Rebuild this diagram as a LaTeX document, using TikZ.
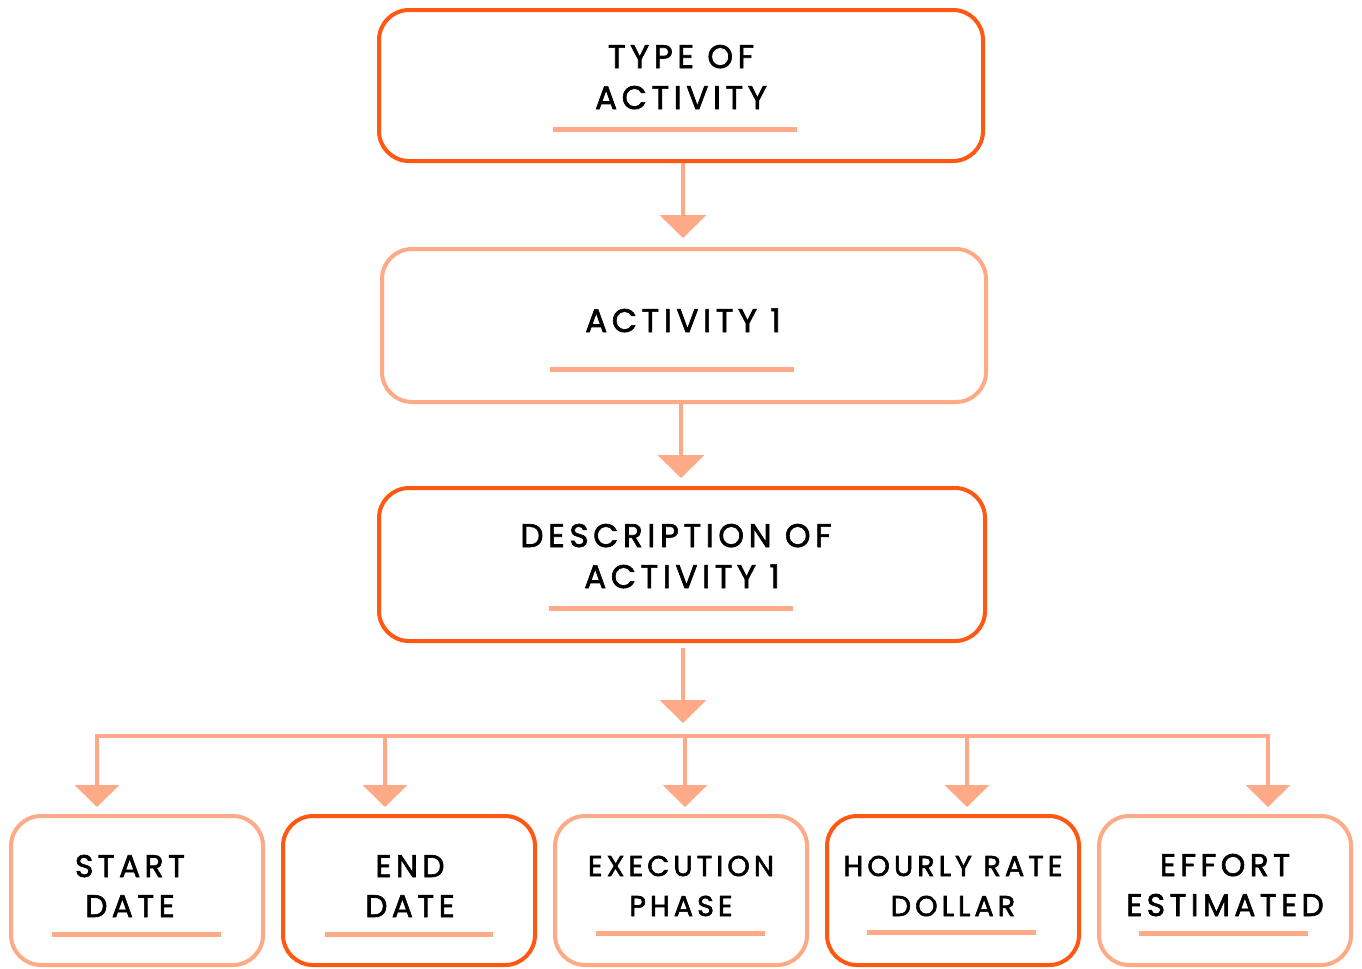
\documentclass[tikz,border=0pt]{standalone}
\usepackage{fontspec}
\setmainfont{Poppins}[LetterSpace=14, FakeBold=2]
\usetikzlibrary{arrows.meta}
\definecolor{hot}{RGB}{255,88,18}
\definecolor{soft}{RGB}{255,170,134}

\begin{document}
\begin{tikzpicture}[x=0.75pt,y=-0.75pt,
  card/.style={draw, line width=3pt, rounded corners=22.5pt, fill=white, inner sep=0pt},
  hotcard/.style={card, draw=hot},
  softcard/.style={card, draw=soft},
  wide/.style={minimum width=453pt, minimum height=114pt},
  leaf/.style={minimum width=189pt, minimum height=111.75pt},
  rule/.style={draw=soft, line width=3.75pt},
  link/.style={draw=soft, line width=3pt, -{Triangle[length=17.25pt,width=34.5pt]}},
  drop/.style={draw=soft, line width=3pt, -{Triangle[length=16.5pt,width=33pt]}},
  bus/.style={draw=soft, line width=3pt, line cap=rect},
  big/.style={anchor=base, inner sep=0pt, font=\fontsize{24.5pt}{30pt}\selectfont},
  mid/.style={anchor=base, inner sep=0pt, font=\fontsize{23.5pt}{30pt}\selectfont},
  sml/.style={anchor=base, inner sep=0pt, font=\fontsize{21.5pt}{28pt}\selectfont},
]
\useasboundingbox (0,0) rectangle (1362,968);

% main chain of boxes
\node[hotcard, wide, minimum height=113.25pt] (type) at (681,85.5) {};
\node[softcard, wide, minimum height=114.75pt] (act) at (684,325.5) {};
\node[hotcard, wide, minimum width=454.5pt, minimum height=114.75pt] (desc) at (682,564.5) {};

% detail boxes
\node[softcard, leaf] (start) at (137,890.5) {};
\node[hotcard, leaf] (end) at (409,890.5) {};
\node[softcard, leaf] (exec) at (681,890.5) {};
\node[hotcard, leaf] (rate) at (953,890.5) {};
\node[softcard, leaf] (effort) at (1225,890.5) {};

% labels
\node[big] (typeA) at (681,68) {TYPE OF};
\node[big] (typeB) at (681,109) {ACTIVITY};
\draw[rule] (553,129) -- (797,129);

\node[big] (actA) at (683,332) {ACTIVITY 1};
\draw[rule] (550,369) -- (794,369);

\node[big] (descA) at (676,547) {DESCRIPTION OF};
\node[big] (descB) at (682,588) {ACTIVITY 1};
\draw[rule] (549,608) -- (793,608);

\node[mid] (startA) at (130,877) {START};
\node[mid] (startB) at (130,917) {DATE};
\draw[rule] (52,934) -- (221,934);

\node[mid] (endA) at (410,877) {END};
\node[mid] (endB) at (410,917) {DATE};
\draw[rule] (325,934) -- (493,934);

\node[sml] (execA) at (681,876) {EXECUTION};
\node[sml] (execB) at (681,916) {PHASE};
\draw[rule] (596,933) -- (765,933);

\node[sml] (rateA) at (953,876) {HOURLY RATE};
\node[sml] (rateB) at (953,916) {DOLLAR};
\draw[rule] (867,932) -- (1036,932);

\node[mid] (effA) at (1225,876) {EFFORT};
\node[mid] (effB) at (1225,916) {ESTIMATED};
\draw[rule] (1139,933) -- (1308,933);

% connectors
\draw[link, shorten >=6.75pt] ([xshift=1.5pt]type.south) -- ([xshift=-0.75pt]act.north);
\draw[link, shorten >=6pt] ([xshift=-2.25pt]act.south) -- ([xshift=-0.75pt]desc.north);

\coordinate (busL) at (97,736);
\coordinate (busR) at (1268,736);
\coordinate (busM) at (683,736);
\draw[link, shorten <=3.75pt, shorten >=9.75pt] (desc.south -| busM) -- (busM);
\draw[bus] (busL) -- (busR);

\draw[drop, shorten >=5.25pt] (busL) -- (97,0 |- start.north);
\draw[drop, shorten >=5.25pt] (385,736) -- (385,0 |- end.north);
\draw[drop, shorten >=5.25pt] (685,736) -- (685,0 |- exec.north);
\draw[drop, shorten >=5.25pt] (967,736) -- (967,0 |- rate.north);
\draw[drop, shorten >=5.25pt] (busR) -- (1268,0 |- effort.north);
\end{tikzpicture}
\end{document}
